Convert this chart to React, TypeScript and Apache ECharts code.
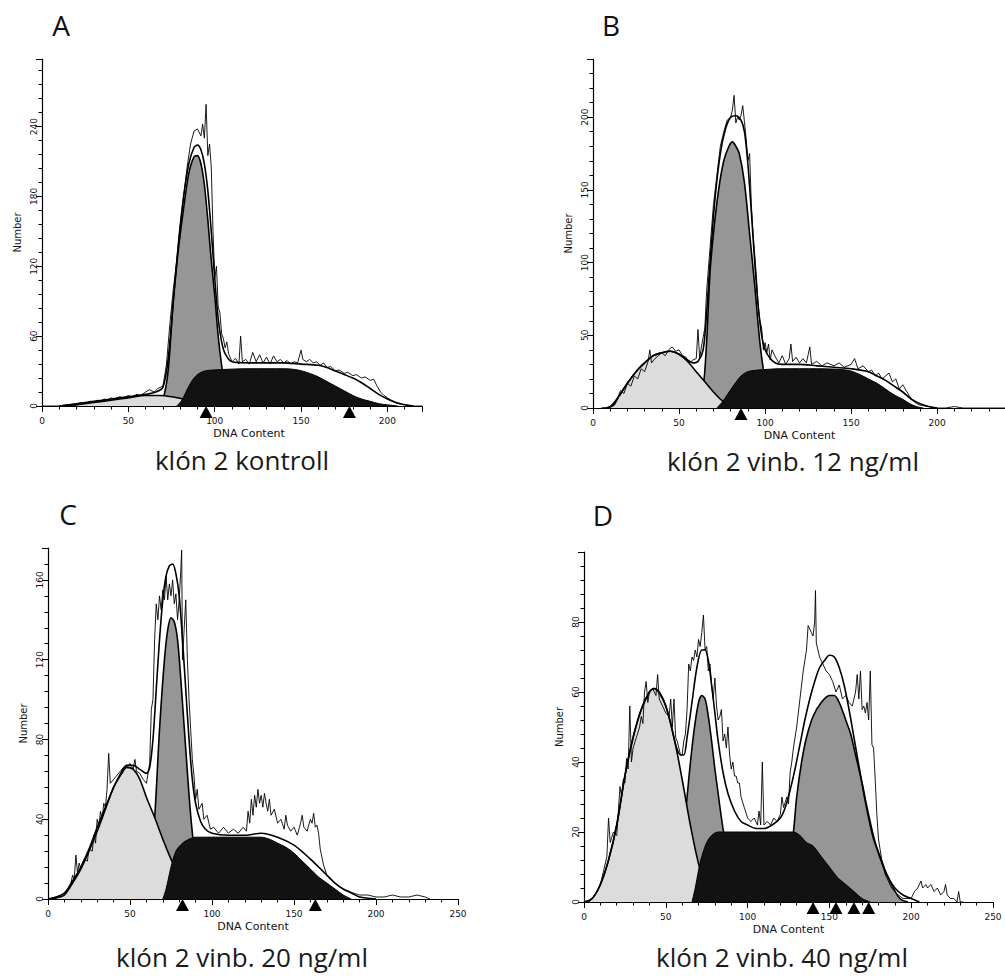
import React, { useEffect, useRef } from "react";
import * as echarts from "echarts";

type P = [number, number];

// ---------- Panel A: klón 2 kontroll ----------
const A_raw: P[] = [[0,0],[10,0],[15,1],[20,2],[23,3],[25,2],[28,4],[30,3],[32,5],[34,4],[36,6],[38,5],[40,7],[42,6],[45,8],[47,7],[50,9],[52,8],[55,10],[57,9],[60,12],[62,14],[65,12],[67,15],[70,17],[72,35],[74,70],[76,100],[78,125],[80,155],[82,180],[84,205],[86,225],[88,236],[90,238],[92,232],[93,242],[94,230],[95,259],[96,215],[97,225],[98,205],[99,150],[100,110],[101,120],[102,85],[103,80],[104,62],[105,58],[106,50],[107,55],[108,45],[110,38],[112,41],[114,36],[115,60],[116,38],[118,40],[120,36],[122,46],[124,38],[126,44],[128,37],[130,42],[132,36],[134,43],[136,38],[138,40],[140,37],[142,39],[144,36],[146,38],[148,37],[150,48],[151,40],[153,38],[155,40],[157,37],[159,38],[161,35],[163,37],[165,33],[167,34],[170,30],[172,31],[175,28],[177,29],[180,26],[182,27],[185,24],[187,25],[190,22],[192,23],[194,17],[196,12],[198,9],[200,7],[203,4],[206,2],[210,1],[215,0],[220,0]];
const A_fit: P[] = [[10,0],[20,2],[30,4],[40,6],[50,8],[60,10],[66,12],[70,16],[73,40],[76,90],[79,140],[82,180],[85,208],[88,222],[90,224],[92,220],[94,208],[96,185],[98,150],[100,110],[102,75],[104,55],[106,45],[110,38],[120,37],[130,37],[140,37],[150,36],[160,35],[165,33],[170,30],[175,27],[180,24],[185,20],[190,15],[195,10],[200,6],[205,3],[210,1],[215,0]];
const A_sub: P[] = [[10,0],[20,1],[30,3],[40,5],[50,7],[60,9],[68,9],[75,8],[82,6],[88,4],[95,2],[100,1],[105,0]];
const A_G1: P[] = [[66,0],[70,6],[73,30],[76,90],[79,135],[82,170],[85,200],[88,214],[90,215],[92,208],[94,190],[96,160],[98,125],[100,95],[102,60],[104,35],[106,18],[108,8],[110,3],[114,0]];
const A_G2: P[] = [];
const A_S: P[] = [[78,0],[81,5],[84,14],[87,22],[90,27],[94,30],[100,31],[120,32],[140,32],[148,31],[155,28],[160,25],[165,21],[170,17],[175,13],[180,9],[185,6],[190,4],[195,2],[200,1],[206,0]];
const A_markers: number[] = [95, 178];

// ---------- Panel B: klón 2 vinb. 12 ng/ml ----------
const B_raw: P[] = [[8,0],[10,1],[12,3],[14,6],[16,12],[18,10],[20,17],[22,15],[24,22],[26,20],[28,27],[30,25],[32,32],[33,40],[34,31],[36,34],[38,36],[40,38],[42,36],[44,40],[46,42],[48,39],[50,40],[52,36],[54,35],[56,31],[58,33],[60,34],[61,54],[62,34],[63,42],[65,55],[66,80],[68,110],[70,140],[72,160],[74,180],[76,190],[78,198],[80,200],[81,205],[82,215],[83,196],[84,200],[85,198],[86,201],[87,208],[88,197],[89,185],[90,170],[91,175],[92,140],[93,120],[94,105],[95,90],[96,70],[97,60],[98,55],[99,40],[100,45],[101,38],[102,44],[103,33],[104,40],[106,35],[108,31],[110,36],[112,30],[114,34],[115,44],[116,32],[118,35],[120,31],[122,34],[124,31],[126,42],[127,30],[130,32],[133,29],[136,31],[140,29],[143,31],[146,28],[150,30],[152,34],[154,27],[157,29],[160,25],[162,26],[164,22],[166,24],[168,20],[170,22],[172,24],[174,18],[176,20],[178,13],[180,16],[182,12],[184,8],[186,5],[188,3],[190,2],[195,1],[200,0],[205,0],[210,1],[215,0],[240,0]];
const B_fit: P[] = [[5,0],[10,1],[15,8],[20,17],[25,25],[30,31],[35,36],[40,38],[45,39],[50,37],[55,33],[58,31],[61,32],[64,40],[66,65],[68,100],[71,145],[74,175],[77,192],[80,200],[83,201],[86,198],[88,190],[90,168],[92,135],[94,100],[96,70],[98,50],[100,40],[103,34],[106,31],[110,30],[120,30],[130,29],[140,28],[150,27],[160,25],[165,22],[170,19],[175,15],[180,11],[185,6],[190,3],[195,1],[200,0]];
const B_sub: P[] = [[8,0],[12,2],[15,8],[20,17],[25,25],[30,31],[35,36],[40,38],[45,39],[50,37],[55,32],[60,25],[65,18],[70,11],[75,5],[80,1],[85,0]];
const B_G1: P[] = [[58,0],[61,3],[64,14],[66,45],[68,93],[70,120],[73,150],[76,170],[79,180],[81,183],[83,180],[85,175],[88,155],[91,120],[94,84],[97,45],[100,20],[104,6],[108,1],[112,0]];
const B_G2: P[] = [];
const B_S: P[] = [[72,0],[75,4],[78,9],[82,16],[86,22],[90,25],[95,26],[110,27],[130,27],[148,26],[155,23],[160,20],[165,17],[170,13],[175,9],[180,6],[184,3],[188,1],[192,0]];
const B_markers: number[] = [86];

// ---------- Panel C: klón 2 vinb. 20 ng/ml ----------
const C_raw: P[] = [[0,0],[5,1],[8,2],[10,3],[12,5],[14,8],[15,12],[16,10],[17,22],[18,13],[19,18],[20,15],[22,20],[24,19],[25,25],[27,24],[28,32],[29,28],[30,40],[31,36],[32,44],[33,40],[34,48],[35,46],[36,55],[37,73],[38,58],[40,60],[42,62],[44,64],[46,66],[48,66],[50,68],[52,65],[53,70],[54,64],[56,63],[58,60],[60,58],[62,68],[63,95],[64,100],[65,130],[66,148],[67,140],[68,152],[69,145],[70,155],[71,150],[72,162],[73,150],[74,158],[75,152],[76,160],[77,148],[78,153],[79,140],[80,150],[81,165],[81.5,175],[82,120],[83,135],[84,150],[85,120],[86,100],[87,85],[88,70],[89,62],[90,50],[91,55],[92,45],[94,48],[95,40],[97,42],[99,35],[101,36],[104,33],[107,36],[110,33],[113,35],[116,33],[119,36],[121,34],[122,44],[123,38],[124,50],[125,42],[126,52],[127,46],[128,55],[129,48],[130,52],[131,46],[132,53],[133,48],[134,44],[135,50],[136,42],[138,45],[140,38],[142,40],[144,35],[145,42],[146,37],[148,34],[150,36],[152,32],[154,38],[155,42],[156,36],[158,34],[160,40],[161,38],[162,43],[163,36],[164,37],[165,33],[166,25],[168,17],[170,12],[172,10],[175,8],[178,6],[180,5],[183,4],[186,3],[190,2],[195,2],[200,1],[205,1],[210,2],[215,1],[220,1],[225,2],[230,1],[233,0]];
const C_fit: P[] = [[0,0],[5,1],[10,3],[15,9],[20,16],[25,25],[30,36],[35,46],[40,56],[45,64],[48,67],[52,67],[56,65],[60,63],[62,66],[64,80],[66,105],[68,130],[70,150],[72,162],[74,167],[76,168],[78,163],[80,152],[82,130],[84,105],[86,80],[88,60],[90,48],[93,39],[96,35],[100,33],[110,32],[120,32],[130,33],[140,31],[150,27],[160,20],[170,12],[175,8],[180,5],[185,3],[190,1],[200,0]];
const C_sub: P[] = [[3,0],[7,1],[10,2],[15,8],[20,15],[25,24],[30,34],[35,45],[40,56],[45,63],[48,66],[52,65],[56,60],[60,51],[65,41],[70,30],[75,20],[80,11],[85,5],[90,1],[95,0]];
const C_G1: P[] = [[56,0],[59,3],[62,12],[65,40],[68,85],[71,120],[73,135],[75,141],[77,139],[79,130],[81,110],[84,75],[87,42],[90,20],[94,7],[98,2],[102,0]];
const C_G2: P[] = [];
const C_S: P[] = [[70,0],[72,5],[75,16],[78,24],[82,28],[86,30],[90,31],[110,31],[130,31],[135,30],[140,28],[145,26],[150,23],[155,19],[160,15],[165,11],[170,8],[175,5],[180,2],[185,0]];
const C_markers: number[] = [82, 163];

// ---------- Panel D: klón 2 vinb. 40 ng/ml ----------
const D_raw: P[] = [[0,0],[3,0],[5,1],[8,3],[10,5],[12,9],[14,13],[15,24],[16,17],[18,20],[20,19],[22,33],[23,30],[24,35],[25,34],[26,41],[27,38],[28,56],[29,40],[30,44],[32,47],[34,50],[35,53],[36,51],[37,60],[38,63],[39,57],[40,60],[42,61],[44,59],[45,65],[46,58],[48,56],[50,54],[52,53],[53,58],[54,50],[55,58],[56,47],[57,46],[58,44],[59,42],[60,42],[61,46],[62,48],[63,55],[64,68],[65,66],[66,70],[67,69],[68,72],[69,70],[70,75],[71,73],[72,77],[73,82],[74,72],[75,73],[76,66],[77,68],[78,62],[79,58],[80,64],[81,56],[82,52],[83,53],[84,55],[85,46],[86,48],[87,44],[88,50],[89,42],[90,38],[91,40],[92,36],[93,36],[94,34],[95,34],[96,30],[98,27],[100,24],[102,23],[104,24],[106,22],[107,26],[108,22],[109,40],[110,22],[112,23],[114,22],[116,24],[118,23],[120,25],[121,30],[122,27],[124,30],[125,28],[126,37],[127,40],[128,44],[130,50],[132,58],[134,66],[136,72],[137,79],[138,78],[139,77],[140,76],[141,80],[141.5,89],[142,74],[143,72],[144,70],[146,68],[148,66],[150,65],[152,63],[154,60],[156,62],[158,58],[160,59],[162,57],[164,56],[166,60],[167,65],[168,58],[169,66],[170,55],[171,56],[172,54],[173,57],[174,52],[175,66],[176,45],[177,44],[178,35],[179,25],[180,18],[182,12],[184,8],[186,6],[188,4],[190,3],[192,2],[195,1],[198,1],[200,1],[202,3],[204,4],[206,6],[207,4],[209,5],[210,4],[212,5],[214,3],[216,4],[218,2],[220,3],[221,5],[222,2],[224,1],[226,1],[228,0],[229,3],[230,0],[232,0]];
const D_fit: P[] = [[0,0],[5,1],[10,5],[15,12],[20,22],[25,36],[30,47],[35,55],[40,60],[43,61],[46,60],[50,56],[53,51],[56,45],[59,42],[61,42],[63,47],[66,57],[69,67],[72,72],[74,72],[76,69],[78,62],[80,54],[82,46],[85,37],[88,31],[92,26],[96,23],[100,22],[105,21],[110,21],[115,22],[120,24],[123,27],[126,32],[129,38],[132,45],[135,52],[138,58],[141,63],[144,67],[147,69],[150,70.5],[153,70],[156,67],[159,62],[162,55],[165,47],[168,39],[171,31],[174,24],[177,18],[181,13],[185,8],[190,4],[195,2],[200,1],[205,0]];
const D_sub: P[] = [[0,0],[5,1],[10,5],[15,12],[20,22],[25,36],[30,47],[35,55],[40,60],[43,61],[47,59],[50,56],[55,47],[60,35],[65,22],[70,11],[75,4],[80,1],[85,0]];
const D_G1: P[] = [[52,0],[55,3],[58,8],[61,20],[64,35],[67,48],[70,57],[72,59],[74,58],[76,53],[78,46],[80,38],[82,31],[84,24],[86,18],[88,13],[92,6],[96,2],[100,0]];
const D_G2: P[] = [[115,0],[120,3],[125,12],[128,20],[130,30],[133,40],[136,47],[140,53],[145,57],[150,59],[153,59],[156,57],[160,52],[163,48],[166,42],[170,34],[173,27],[178,17],[183,10],[188,5],[193,1],[198,0]];
const D_S: P[] = [[66,0],[68,4],[70,9],[72,13],[75,17],[78,19],[82,20],[100,20],[120,20],[128,20],[132,19],[136,17],[140,16],[145,13],[150,10],[155,7],[160,5],[165,3],[170,1],[175,0]];
const D_markers: number[] = [140, 154, 165, 174];

// ---------- texts ----------
const letters = ["A", "B", "C", "D"];
const captions = ["klón 2 kontroll", "klón 2 vinb. 12 ng/ml", "klón 2 vinb. 20 ng/ml", "klón 2 vinb. 40 ng/ml"];
const xName = "DNA Content";
const yName = "Number";

const panels = [
  { raw: A_raw, fit: A_fit, sub: A_sub, g1: A_G1, g2: A_G2, s: A_S, markers: A_markers,
    grid: { left: 42, top: 59, width: 380, height: 347 }, xMax: 220, yMax: 298, yInt: 60, showXMax: false,
    letter: [61, 25], caption: [242, 460], namePad: 34 },
  { raw: B_raw, fit: B_fit, sub: B_sub, g1: B_G1, g2: B_G2, s: B_S, markers: B_markers,
    grid: { left: 593, top: 59, width: 413, height: 349 }, xMax: 240, yMax: 240, yInt: 50, showXMax: false,
    letter: [611, 25], caption: [793, 461], namePad: 0 },
  { raw: C_raw, fit: C_fit, sub: C_sub, g1: C_G1, g2: C_G2, s: C_S, markers: C_markers,
    grid: { left: 48, top: 548, width: 410, height: 351 }, xMax: 250, yMax: 176, yInt: 40, showXMax: true,
    letter: [68, 514], caption: [242, 957], namePad: 0 },
  { raw: D_raw, fit: D_fit, sub: D_sub, g1: D_G1, g2: D_G2, s: D_S, markers: D_markers,
    grid: { left: 584, top: 552, width: 409, height: 350 }, xMax: 250, yMax: 100, yInt: 20, showXMax: true,
    letter: [603, 515], caption: [782, 957], namePad: 0 },
];

const LIGHT = "#dcdcdc";
const MID = "#969696";
const DARK = "#121212";
const AXIS_FONT = "DejaVu Sans";

function areaSeries(data: P[], gi: number, fill: string, lw: number, z: number) {
  return {
    type: "line", xAxisIndex: gi, yAxisIndex: gi, data, smooth: 0.3, showSymbol: false, symbol: "none",
    lineStyle: { color: "#000", width: lw }, areaStyle: { color: fill, opacity: 1 }, z, silent: true,
  };
}

export default function App() {
  const ref = useRef<HTMLDivElement>(null);
  useEffect(() => {
    if (!ref.current) return;
    const chart = echarts.init(ref.current, undefined, { renderer: "svg" });
    const grids: any[] = [];
    const xAxes: any[] = [];
    const yAxes: any[] = [];
    const series: any[] = [];
    const graphics: any[] = [];
    panels.forEach((p, i) => {
      grids.push({ ...p.grid, outerBoundsMode: "none", containLabel: false });
      xAxes.push({
        type: "value", gridIndex: i, min: 0, max: p.xMax, interval: 50,
        name: xName, nameLocation: "middle", nameGap: 22,
        nameTextStyle: { fontFamily: AXIS_FONT, fontSize: 11, color: "#111", padding: [0, 0, 0, p.namePad] },
        axisLine: { show: true, onZero: false, lineStyle: { color: "#000", width: 1.2 } },
        axisTick: { show: true, length: 6, lineStyle: { color: "#000", width: 1 } },
        minorTick: { show: true, splitNumber: 5, length: 3.5, lineStyle: { color: "#000", width: 1 } },
        axisLabel: { fontFamily: AXIS_FONT, fontSize: 9, color: "#111", margin: 10, showMaxLabel: p.showXMax },
        splitLine: { show: false }, minorSplitLine: { show: false },
      });
      yAxes.push({
        type: "value", gridIndex: i, min: 0, max: p.yMax, interval: p.yInt,
        name: yName, nameLocation: "middle", nameGap: 20, nameRotate: 90,
        nameTextStyle: { fontFamily: AXIS_FONT, fontSize: 10, color: "#111" },
        axisLine: { show: true, onZero: false, lineStyle: { color: "#000", width: 1.2 } },
        axisTick: { show: true, length: 6, lineStyle: { color: "#000", width: 1 } },
        minorTick: { show: true, splitNumber: 5, length: 3.5, lineStyle: { color: "#000", width: 1 } },
        axisLabel: { fontFamily: AXIS_FONT, fontSize: 9, color: "#111", margin: 4, rotate: 90, showMaxLabel: false },
        splitLine: { show: false }, minorSplitLine: { show: false },
      });
      series.push(areaSeries(p.g1, i, MID, 1.6, 2));
      if (p.g2.length) series.push(areaSeries(p.g2, i, MID, 1.6, 2));
      series.push(areaSeries(p.sub, i, LIGHT, 1.6, 3));
      series.push(areaSeries(p.s, i, DARK, 1, 4));
      series.push({
        type: "line", xAxisIndex: i, yAxisIndex: i, data: p.fit, smooth: 0.3, showSymbol: false, symbol: "none",
        lineStyle: { color: "#000", width: 1.6 }, z: 5, silent: true,
      });
      series.push({
        type: "line", xAxisIndex: i, yAxisIndex: i, data: p.raw, smooth: false, showSymbol: false, symbol: "none",
        lineStyle: { color: "#000", width: 0.9 }, z: 6, silent: true,
      });
      series.push({
        type: "scatter", xAxisIndex: i, yAxisIndex: i, data: p.markers.map((m) => [m, 0]),
        symbol: "triangle", symbolSize: [13, 12], symbolOffset: [0, 6], clip: false,
        itemStyle: { color: "#000", opacity: 1 }, z: 10, silent: true,
      });
      graphics.push({
        type: "text", x: p.letter[0], y: p.letter[1],
        style: { text: letters[i], fontFamily: "Open Sans", fontSize: 28, fill: "#111", align: "center", verticalAlign: "middle" },
      });
      graphics.push({
        type: "text", x: p.caption[0], y: p.caption[1],
        style: { text: captions[i], fontFamily: "Open Sans", fontSize: 26, fill: "#1a1a1a", align: "center", verticalAlign: "middle" },
      });
    });
    chart.setOption({
      animation: false,
      backgroundColor: "#ffffff",
      grid: grids,
      xAxis: xAxes,
      yAxis: yAxes,
      series,
      graphic: graphics,
    });
    return () => chart.dispose();
  }, []);
  return <div ref={ref} style={{ position: "fixed", left: 0, top: 0, width: 1005, height: 978 }} />;
}
